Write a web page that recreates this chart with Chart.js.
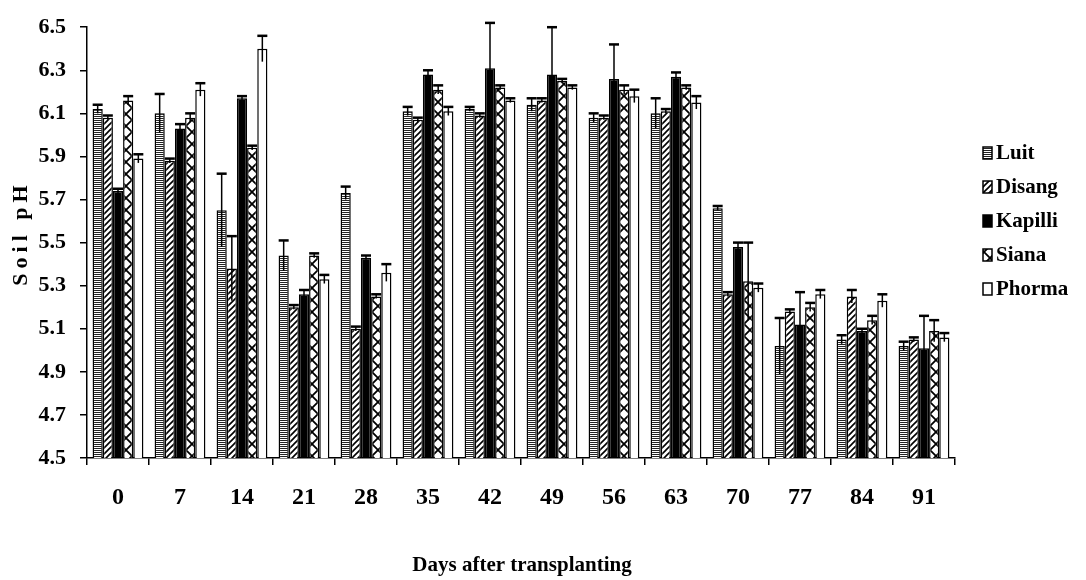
<!DOCTYPE html>
<html>
<head>
<meta charset="utf-8">
<script src="https://cdn.jsdelivr.net/npm/chart.js@4"></script>
<style>
  html, body { margin: 0; padding: 0; background: #fff; }
  #wrap { width: 1086px; height: 580px; }
</style>
</head>
<body>
<div id="wrap"><canvas id="chart" width="1086" height="580"></canvas></div>
<script>
const days = ['0', '7', '14', '21', '28', '35', '42', '49', '56', '63', '70', '77', '84', '91'];
const seriesNames = ['Luit', 'Disang', 'Kapilli', 'Siana', 'Phorma'];

const luit = [6.12, 6.10, 5.65, 5.44, 5.73, 6.11, 6.12, 6.14, 6.08, 6.10, 5.66, 5.02, 5.05, 5.02];
const luitErr = [0.02, 0.09, 0.17, 0.07, 0.03, 0.02, 0.01, 0.03, 0.02, 0.07, 0.01, 0.13, 0.02, 0.02];
const disang = [6.08, 5.88, 5.38, 5.20, 5.10, 6.07, 6.09, 6.16, 6.08, 6.11, 5.26, 5.18, 5.25, 5.05];
const disangErr = [0.01, 0.01, 0.15, 0.01, 0.01, 0.01, 0.01, 0.01, 0.01, 0.01, 0.01, 0.01, 0.03, 0.01];
const kapilli = [5.74, 6.03, 6.17, 5.26, 5.43, 6.28, 6.31, 6.28, 6.26, 6.27, 5.48, 5.12, 5.09, 5.01];
const kapilliErr = [0.01, 0.02, 0.01, 0.02, 0.01, 0.02, 0.21, 0.22, 0.16, 0.02, 0.02, 0.15, 0.01, 0.15];
const siana = [6.16, 6.08, 5.94, 5.44, 5.25, 6.21, 6.22, 6.25, 6.21, 6.22, 5.32, 5.20, 5.14, 5.09];
const sianaErr = [0.02, 0.02, 0.01, 0.01, 0.01, 0.02, 0.01, 0.01, 0.02, 0.01, 0.18, 0.02, 0.02, 0.05];
const phorma = [5.89, 6.21, 6.40, 5.33, 5.36, 6.11, 6.16, 6.22, 6.18, 6.15, 5.29, 5.26, 5.23, 5.06];
const phormaErr = [0.02, 0.03, 0.06, 0.02, 0.04, 0.02, 0.01, 0.01, 0.03, 0.03, 0.02, 0.02, 0.03, 0.02];

const yTicks = [4.5, 4.7, 4.9, 5.1, 5.3, 5.5, 5.7, 5.9, 6.1, 6.3, 6.5];

const FONT = "'Liberation Serif', 'Times New Roman', serif";

// fill patterns, black on white like the printed figure
function makePattern(kind) {
    const c = document.createElement('canvas');
    const g = c.getContext('2d');
    if (kind === 'stripes') {
        c.width = 4; c.height = 2;
        g.fillStyle = '#fff'; g.fillRect(0, 0, 4, 2);
        g.fillStyle = '#222'; g.fillRect(0, 0, 4, 1);
    } else if (kind === 'diag') {
        c.width = 6; c.height = 6;
        g.fillStyle = '#fff'; g.fillRect(0, 0, 6, 6);
        g.strokeStyle = '#000'; g.lineWidth = 1.6;
        g.beginPath();
        g.moveTo(-1, 7); g.lineTo(7, -1);
        g.moveTo(-4, 4); g.lineTo(4, -4);
        g.moveTo(2, 10); g.lineTo(10, 2);
        g.stroke();
    } else if (kind === 'cross') {
        c.width = 12; c.height = 12;
        g.fillStyle = '#fff'; g.fillRect(0, 0, 12, 12);
        g.strokeStyle = '#000'; g.lineWidth = 1.8;
        g.beginPath();
        g.moveTo(0, 0); g.lineTo(12, 12);
        g.moveTo(12, 0); g.lineTo(0, 12);
        g.stroke();
    } else {
        return kind;
    }
    return g.createPattern(c, 'repeat');
}

const fills = [makePattern('stripes'), makePattern('diag'), '#000', makePattern('cross'), '#fff'];
const values = [luit, disang, kapilli, siana, phorma];
const errors = [luitErr, disangErr, kapilliErr, sianaErr, phormaErr];

const errorBars = {
    id: 'errorBars',
    afterDatasetsDraw(chart) {
        const ctx = chart.ctx;
        const y = chart.scales.y;
        ctx.save();
        ctx.strokeStyle = '#000';
        chart.data.datasets.forEach((ds, di) => {
            const meta = chart.getDatasetMeta(di);
            meta.data.forEach((bar, i) => {
                const v = ds.data[i];
                const e = errors[di][i];
                const top = y.getPixelForValue(v + e);
                const bot = y.getPixelForValue(v - e);
                ctx.lineWidth = 1.5;
                ctx.beginPath();
                ctx.moveTo(bar.x, top);
                ctx.lineTo(bar.x, bot);
                ctx.stroke();
                ctx.lineWidth = 2.5;
                ctx.beginPath();
                ctx.moveTo(bar.x - 5, top);
                ctx.lineTo(bar.x + 5, top);
                ctx.stroke();
            });
        });
        ctx.restore();
    }
};

const titlesAndLegend = {
    id: 'titlesAndLegend',
    afterDraw(chart) {
        const ctx = chart.ctx;
        const area = chart.chartArea;
        ctx.save();
        ctx.fillStyle = '#000';
        ctx.textBaseline = 'middle';

        // x title
        ctx.font = 'bold 21px ' + FONT;
        ctx.textAlign = 'center';
        ctx.fillText('Days after transplanting', 522, 566);

        // y title, letter spaced
        ctx.save();
        ctx.translate(21, 233);
        ctx.rotate(-Math.PI / 2);
        ctx.font = 'bold 22px ' + FONT;
        ctx.letterSpacing = '5px';
        ctx.fillText('Soil pH', 0, 0);
        ctx.restore();

        // legend
        ctx.font = 'bold 21px ' + FONT;
        ctx.textAlign = 'left';
        const ys = [153, 187, 221, 255, 289];
        seriesNames.forEach((name, i) => {
            const bx = 983, by = ys[i] - 6;
            ctx.fillStyle = fills[i];
            ctx.fillRect(bx, by, 9, 12);
            ctx.strokeStyle = '#000';
            ctx.lineWidth = 1.5;
            ctx.strokeRect(bx, by, 9, 12);
            ctx.fillStyle = '#000';
            ctx.fillText(name, 996, ys[i] + 1);
        });
        ctx.restore();
    }
};

new Chart(document.getElementById('chart'), {
    type: 'bar',
    data: {
        labels: days,
        datasets: seriesNames.map((name, i) => ({
            label: name,
            data: values[i],
            backgroundColor: fills[i],
            borderColor: '#000',
            borderWidth: 1.5,
            borderSkipped: 'start',
            barPercentage: 1.0,
            categoryPercentage: 0.82
        }))
    },
    options: {
        responsive: false,
        animation: false,
        layout: { padding: { left: 0, right: 131, top: 18, bottom: 0 } },
        plugins: {
            legend: { display: false },
            tooltip: { enabled: false }
        },
        scales: {
            x: {
                afterFit: s => { s.height = 122; },
                grid: { drawOnChartArea: false, drawTicks: true, tickLength: 7, color: '#000', lineWidth: 1.5, offset: true },
                border: { display: true, color: '#000', width: 1.5 },
                ticks: { color: '#000', padding: 18, font: { family: FONT, size: 24, weight: 'bold' } }
            },
            y: {
                min: 4.5,
                max: 6.5,
                afterFit: s => { s.width = 87; },
                afterBuildTicks: s => { s.ticks = yTicks.map(v => ({ value: v })); },
                grid: { drawOnChartArea: false, drawTicks: true, tickLength: 7, color: '#000', lineWidth: 1.5 },
                border: { display: true, color: '#000', width: 1.5 },
                ticks: {
                    color: '#000',
                    padding: 14,
                    font: { family: FONT, size: 22, weight: 'bold' },
                    callback: v => v.toFixed(1)
                }
            }
        }
    },
    plugins: [errorBars, titlesAndLegend]
});
</script>
</body>
</html>
